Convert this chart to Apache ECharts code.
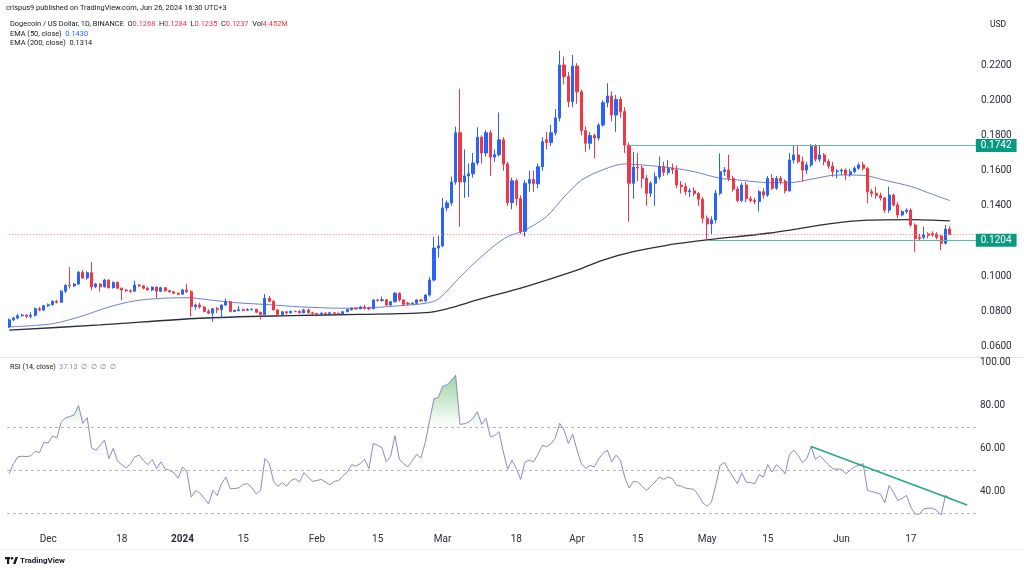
<!DOCTYPE html>
<html><head><meta charset="utf-8">
<script src="https://cdn.jsdelivr.net/npm/echarts@6/dist/echarts.min.js"></script>
<style>html,body{margin:0;padding:0;background:#fff}#c{width:1024px;height:570px}</style>
</head><body><div id="c"></div>
<script>
// ---------- DATA ----------
// daily candles [open, close, low, high], DOGE/USD Binance, 2023-11-22 .. 2024-06-26
const nov23 = [[0.0712,0.0752,0.0705,0.0760],[0.0752,0.0762,0.0745,0.0770],[0.0762,0.0775,0.0755,0.0785],[0.0775,0.0779,0.0770,0.0788],[0.0779,0.0772,0.0762,0.0785],[0.0772,0.0778,0.0760,0.0795],[0.0778,0.0815,0.0770,0.0822],[0.0815,0.0808,0.0800,0.0825],[0.0808,0.0832,0.0802,0.0838]];
const dec23 = [[0.0832,0.0838,0.0825,0.0845],[0.0838,0.0858,0.0832,0.0862],[0.0858,0.0852,0.0845,0.0865],[0.0852,0.0915,0.0850,0.0920],[0.0915,0.0948,0.0905,0.0955],[0.0948,0.0945,0.0930,0.1052],[0.0945,0.0955,0.0938,0.0962],[0.0955,0.1022,0.0950,0.1030],[0.1022,0.0990,0.0985,0.1035],[0.0990,0.1020,0.0980,0.1028],[0.1020,0.0940,0.0920,0.1079],[0.0940,0.0955,0.0932,0.0962],[0.0955,0.0940,0.0912,0.0960],[0.0940,0.0978,0.0935,0.0985],[0.0978,0.0935,0.0930,0.0982],[0.0935,0.0965,0.0930,0.0970],[0.0965,0.0932,0.0928,0.0970],[0.0932,0.0922,0.0865,0.0935],[0.0922,0.0918,0.0910,0.0928],[0.0918,0.0915,0.0905,0.0925],[0.0915,0.0950,0.0910,0.0975],[0.0950,0.0945,0.0940,0.0955],[0.0945,0.0932,0.0925,0.0950],[0.0932,0.0922,0.0918,0.0940],[0.0922,0.0938,0.0915,0.0942],[0.0938,0.0915,0.0874,0.0942],[0.0915,0.0935,0.0910,0.0940],[0.0935,0.0918,0.0912,0.0938],[0.0918,0.0912,0.0905,0.0922],[0.0912,0.0903,0.0898,0.0915],[0.0903,0.0898,0.0892,0.0908]];
const jan24 = [[0.0898,0.0922,0.0895,0.0928],[0.0922,0.0912,0.0905,0.0955],[0.0912,0.0828,0.0770,0.0920],[0.0828,0.0836,0.0810,0.0845],[0.0836,0.0825,0.0815,0.0850],[0.0825,0.0800,0.0795,0.0830],[0.0800,0.0790,0.0785,0.0812],[0.0790,0.0815,0.0742,0.0820],[0.0815,0.0810,0.0790,0.0825],[0.0810,0.0836,0.0761,0.0840],[0.0836,0.0855,0.0832,0.0874],[0.0855,0.0800,0.0795,0.0860],[0.0800,0.0805,0.0795,0.0810],[0.0805,0.0810,0.0800,0.0830],[0.0810,0.0806,0.0800,0.0815],[0.0806,0.0810,0.0802,0.0818],[0.0810,0.0812,0.0805,0.0818],[0.0812,0.0795,0.0790,0.0815],[0.0795,0.0782,0.0755,0.0798],[0.0782,0.0874,0.0780,0.0899],[0.0874,0.0858,0.0852,0.0888],[0.0858,0.0808,0.0805,0.0862],[0.0808,0.0782,0.0770,0.0812],[0.0782,0.0798,0.0778,0.0802],[0.0798,0.0792,0.0782,0.0802],[0.0792,0.0800,0.0788,0.0805],[0.0800,0.0799,0.0795,0.0805],[0.0799,0.0792,0.0788,0.0808],[0.0792,0.0808,0.0790,0.0815],[0.0808,0.0792,0.0788,0.0815],[0.0792,0.0788,0.0782,0.0798]];
const feb24 = [[0.0788,0.0785,0.0780,0.0792],[0.0785,0.0790,0.0780,0.0795],[0.0790,0.0788,0.0782,0.0795],[0.0788,0.0792,0.0784,0.0798],[0.0792,0.0789,0.0784,0.0796],[0.0789,0.0787,0.0781,0.0793],[0.0787,0.0798,0.0783,0.0802],[0.0798,0.0810,0.0795,0.0815],[0.0810,0.0818,0.0805,0.0822],[0.0818,0.0815,0.0810,0.0822],[0.0815,0.0825,0.0812,0.0830],[0.0825,0.0818,0.0810,0.0838],[0.0818,0.0815,0.0808,0.0826],[0.0815,0.0865,0.0812,0.0870],[0.0865,0.0862,0.0855,0.0872],[0.0862,0.0866,0.0855,0.0884],[0.0866,0.0836,0.0830,0.0870],[0.0836,0.0855,0.0832,0.0860],[0.0855,0.0903,0.0850,0.0910],[0.0903,0.0865,0.0855,0.0908],[0.0865,0.0840,0.0830,0.0868],[0.0846,0.0842,0.0835,0.0855],[0.0842,0.0846,0.0838,0.0852],[0.0846,0.0865,0.0842,0.0870],[0.0865,0.0860,0.0854,0.0870],[0.0860,0.0893,0.0852,0.0898],[0.0893,0.0978,0.0885,0.0995],[0.0978,0.1160,0.0970,0.1224],[0.1160,0.1172,0.1105,0.1230]];
const mar24 = [[0.1172,0.1388,0.1165,0.1444],[0.1388,0.1416,0.1370,0.1430],[0.1416,0.1535,0.1400,0.1566],[0.1535,0.1815,0.1520,0.1850],[0.1815,0.1535,0.1280,0.2064],[0.1535,0.1570,0.1445,0.1720],[0.1570,0.1582,0.1450,0.1640],[0.1582,0.1643,0.1560,0.1700],[0.1643,0.1790,0.1630,0.1846],[0.1790,0.1700,0.1640,0.1800],[0.1700,0.1815,0.1680,0.1830],[0.1815,0.1677,0.1570,0.1830],[0.1677,0.1690,0.1650,0.1720],[0.1690,0.1775,0.1680,0.1930],[0.1775,0.1637,0.1600,0.1790],[0.1637,0.1418,0.1400,0.1650],[0.1418,0.1542,0.1380,0.1560],[0.1542,0.1440,0.1400,0.1555],[0.1440,0.1255,0.1240,0.1460],[0.1255,0.1528,0.1225,0.1545],[0.1528,0.1550,0.1480,0.1600],[0.1550,0.1525,0.1480,0.1600],[0.1525,0.1622,0.1500,0.1640],[0.1622,0.1764,0.1600,0.1790],[0.1775,0.1760,0.1720,0.1820],[0.1760,0.1815,0.1740,0.1860],[0.1815,0.1899,0.1800,0.1950],[0.1899,0.2200,0.1880,0.2280],[0.2200,0.2134,0.2090,0.2247],[0.2134,0.1992,0.1960,0.2160],[0.1992,0.2194,0.1960,0.2257]];
const apr24 = [[0.2194,0.2048,0.1980,0.2210],[0.2048,0.1827,0.1800,0.2060],[0.1827,0.1755,0.1707,0.1850],[0.1755,0.1799,0.1720,0.1820],[0.1799,0.1785,0.1670,0.1810],[0.1785,0.1859,0.1770,0.1870],[0.1859,0.1986,0.1850,0.2000],[0.1986,0.2024,0.1960,0.2097],[0.2024,0.1916,0.1880,0.2050],[0.1916,0.2005,0.1820,0.2030],[0.2005,0.1935,0.1900,0.2020],[0.1935,0.1745,0.1700,0.1960],[0.1745,0.1528,0.1310,0.1760],[0.1528,0.1620,0.1440,0.1707],[0.1620,0.1615,0.1540,0.1700],[0.1615,0.1556,0.1500,0.1630],[0.1556,0.1471,0.1400,0.1575],[0.1471,0.1528,0.1450,0.1540],[0.1528,0.1565,0.1400,0.1590],[0.1565,0.1622,0.1550,0.1680],[0.1622,0.1590,0.1570,0.1650],[0.1590,0.1613,0.1575,0.1660],[0.1613,0.1605,0.1580,0.1640],[0.1605,0.1518,0.1500,0.1630],[0.1518,0.1510,0.1470,0.1540],[0.1510,0.1480,0.1460,0.1530],[0.1480,0.1485,0.1450,0.1500],[0.1485,0.1470,0.1455,0.1505],[0.1470,0.1437,0.1400,0.1480],[0.1437,0.1329,0.1300,0.1450]];
const may24 = [[0.1329,0.1297,0.1206,0.1345],[0.1297,0.1320,0.1240,0.1340],[0.1320,0.1471,0.1300,0.1490],[0.1471,0.1594,0.1460,0.1698],[0.1594,0.1603,0.1570,0.1620],[0.1603,0.1556,0.1540,0.1690],[0.1556,0.1494,0.1480,0.1570],[0.1494,0.1430,0.1420,0.1510],[0.1430,0.1518,0.1420,0.1530],[0.1518,0.1440,0.1420,0.1535],[0.1440,0.1430,0.1420,0.1455],[0.1430,0.1424,0.1410,0.1445],[0.1424,0.1480,0.1367,0.1490],[0.1480,0.1461,0.1440,0.1500],[0.1461,0.1556,0.1450,0.1570],[0.1556,0.1500,0.1490,0.1580],[0.1500,0.1556,0.1490,0.1570],[0.1556,0.1540,0.1520,0.1570],[0.1540,0.1485,0.1470,0.1550],[0.1485,0.1660,0.1480,0.1700],[0.1660,0.1689,0.1640,0.1745],[0.1689,0.1651,0.1640,0.1745],[0.1651,0.1603,0.1537,0.1680],[0.1603,0.1632,0.1580,0.1650],[0.1632,0.1740,0.1620,0.1750],[0.1740,0.1665,0.1650,0.1750],[0.1665,0.1689,0.1650,0.1745],[0.1689,0.1651,0.1630,0.1700],[0.1651,0.1626,0.1610,0.1665],[0.1626,0.1594,0.1565,0.1650],[0.1594,0.1598,0.1556,0.1610]];
const jun24 = [[0.1598,0.1603,0.1575,0.1612],[0.1603,0.1578,0.1547,0.1612],[0.1578,0.1594,0.1565,0.1610],[0.1594,0.1613,0.1585,0.1625],[0.1613,0.1632,0.1605,0.1645],[0.1632,0.1613,0.1600,0.1650],[0.1613,0.1480,0.1414,0.1620],[0.1480,0.1471,0.1450,0.1495],[0.1471,0.1458,0.1440,0.1509],[0.1458,0.1445,0.1430,0.1475],[0.1445,0.1376,0.1360,0.1450],[0.1376,0.1461,0.1360,0.1509],[0.1461,0.1405,0.1395,0.1470],[0.1405,0.1348,0.1330,0.1420],[0.1348,0.1367,0.1340,0.1375],[0.1367,0.1376,0.1355,0.1385],[0.1376,0.1291,0.1280,0.1385],[0.1291,0.1215,0.1139,0.1300],[0.1222,0.1215,0.1200,0.1240],[0.1221,0.1234,0.1210,0.1281],[0.1240,0.1232,0.1215,0.1250],[0.1242,0.1234,0.1225,0.1255],[0.1240,0.1221,0.1210,0.1250],[0.1228,0.1187,0.1149,0.1235],[0.1187,0.1268,0.1180,0.1291],[0.1268,0.1237,0.1235,0.1284]];

// RSI(14) daily values
const rsiNovDec = [48.4,53.1,56.2,56.5,56.3,56.7,58.8,58.2,62.9,62.6,65.8,65.0,72.2,74.3,74.8,75.6,79.9,71.7,74.3,60.4,59.3,61.5,64.0,55.4,60.1,54.2,52.5,51.1,53.0,56.2,57.0,54.5,52.6,55.1,50.8,53.9,50.6,50.0,48.9,46.4];
const rsiJan = [51.6,49.2,37.6,40.7,39.5,37.0,34.5,40.7,38.4,44.0,46.9,41.5,41.6,41.9,43.5,43.8,42.0,39.1,40.7,55.4,53.1,44.9,42.6,44.3,42.7,45.3,46.1,44.6,48.9,46.9,44.9];
const rsiFeb = [45.3,45.8,44.5,43.3,44.9,45.3,47.5,49.2,52.6,51.9,53.1,55.1,50.8,62.4,61.6,60.4,53.9,56.5,66.0,55.1,53.0,51.6,54.5,57.3,55.7,62.9,73.0,83.0,83.6];
const rsiMar = [88.8,89.5,91.5,93.9,71.2,71.5,72.2,74.0,77.1,71.2,74.0,65.5,66.0,67.8,58.5,50.5,54.7,50.8,45.8,53.9,54.7,53.9,57.5,61.6,60.9,62.4,65.0,71.7,68.6,62.4,66.7];
const rsiApr = [59.3,53.1,50.8,52.3,51.6,55.4,57.8,59.3,53.9,57.0,54.7,46.9,41.8,44.9,44.6,42.7,40.7,42.6,44.6,46.9,45.8,46.9,46.1,43.0,42.7,41.8,41.5,41.2,38.5,35.0];
const rsiMay = [33.4,35.3,43.0,52.3,53.6,50.0,46.9,43.8,48.9,44.6,44.3,43.8,48.0,46.9,52.6,49.2,52.6,50.8,48.4,57.3,59.3,57.0,53.6,55.4,60.9,55.1,56.7,54.7,52.6,50.8,50.5];
const rsiJun = [50.5,48.4,50.0,51.5,52.3,53.1,40.7,40.2,39.6,39.1,35.0,43.0,39.9,36.0,37.1,38.4,33.0,29.8,29.8,32.2,32.5,32.5,31.4,29.4,38.4,37.1];

// EMA readings [date, value]
const ema50 = [['2023-11-22',0.0712],['2023-12-02',0.0730],['2023-12-09',0.0775],['2023-12-15',0.0825],['2023-12-21',0.0860],['2023-12-27',0.0874],['2024-01-02',0.0878],['2024-01-07',0.0866],['2024-01-13',0.0850],['2024-01-21',0.0838],['2024-01-28',0.0826],['2024-02-07',0.0818],['2024-02-14',0.0822],['2024-02-20',0.0832],['2024-02-26',0.0846],['2024-02-29',0.0870],['2024-03-05',0.0995],['2024-03-09',0.1090],['2024-03-13',0.1175],['2024-03-16',0.1225],['2024-03-20',0.1262],['2024-03-25',0.1340],['2024-03-29',0.1450],['2024-04-02',0.1545],['2024-04-07',0.1605],['2024-04-12',0.1638],['2024-04-16',0.1632],['2024-04-23',0.1615],['2024-04-28',0.1594],['2024-05-04',0.1556],['2024-05-08',0.1547],['2024-05-14',0.1533],['2024-05-20',0.1531],['2024-05-25',0.1551],['2024-05-31',0.1575],['2024-06-06',0.1573],['2024-06-11',0.1545],['2024-06-17',0.1510],['2024-06-22',0.1465],['2024-06-26',0.1430]];
const ema200 = [['2023-11-22',0.0694],['2023-12-13',0.0723],['2024-01-05',0.0761],['2024-01-26',0.0776],['2024-02-11',0.0783],['2024-02-26',0.0793],['2024-03-02',0.0815],['2024-03-09',0.0865],['2024-03-20',0.0940],['2024-04-01',0.1035],['2024-04-07',0.1092],['2024-04-14',0.1139],['2024-04-22',0.1177],['2024-05-01',0.1206],['2024-05-15',0.1244],['2024-05-30',0.1300],['2024-06-07',0.1319],['2024-06-17',0.1322],['2024-06-26',0.1314]];

// horizontal levels and RSI trend line
const levelValues = [0.1742, 0.1204];
const levelStarts = ['2024-04-13', '2024-05-01'];
const lastClose = 0.1237;
const rsiTrend = [['2024-05-25', 61], ['2024-06-30', 34]];
const rsiBands = [70, 50, 30];

// tick labels
const tickDates = ['2023-12-01','2023-12-18','2024-01-01','2024-01-15','2024-02-01','2024-02-15','2024-03-01','2024-03-18','2024-04-01','2024-04-15','2024-05-01','2024-05-15','2024-06-01','2024-06-17'];
const tickLabels = ['Dec','18','2024','15','Feb','15','Mar','18','Apr','15','May','15','Jun','17'];
const priceTicks = {min:0.04, max:0.25125, interval:0.02};
const rsiTicks = {min:20, max:100, interval:20};

// ---------- BUILD ----------
const candles = [].concat(nov23, dec23, jan24, feb24, mar24, apr24, may24, jun24);
const rsi = [].concat(rsiNovDec, rsiJan, rsiFeb, rsiMar, rsiApr, rsiMay, rsiJun);
const categories = [];
const t0 = Date.UTC(2023, 10, 22);
for (let i = 0; i < candles.length + 6; i++) categories.push(new Date(t0 + i * 86400000).toISOString().slice(0, 10));
const lastCat = categories[categories.length - 1];

const UP = '#2962ff', DOWN = '#f23645';
const FONT = 'Roboto, "Noto Sans", sans-serif';
const TXT = '#2a2e39';
const rsiTop = 362, rsiBottomPx = 535.3;
const yOfRsi = v => rsiTop + (100 - v) / 80 * (rsiBottomPx - rsiTop);

const obBase = rsi.map(() => 70);
const obTop = rsi.map(v => Math.max(v - 70, 0));

const chart = echarts.init(document.getElementById('c'), null, {renderer: 'canvas'});
const levelLine = (v, start) => [
  {coord: [start, v], lineStyle: {color: '#5cbf9b', width: 1, type: 'solid'},
   label: {show: true, position: 'end', distance: 0, formatter: v.toFixed(4), color: '#fff', backgroundColor: '#089981',
           padding: [1, 5, 1, 5], fontSize: 10, lineHeight: 11, fontFamily: FONT}},
  {coord: [lastCat, v]}
];

chart.setOption({
  animation: false,
  backgroundColor: '#ffffff',
  textStyle: {fontFamily: FONT},
  grid: [
    {left: 7, right: 46, top: 10, bottom: 188.2, outerBoundsMode: 'none', containLabel: false},
    {left: 7, right: 46, top: rsiTop, bottom: 570 - rsiBottomPx, outerBoundsMode: 'none', containLabel: false}
  ],
  xAxis: [
    {type: 'category', gridIndex: 0, data: categories, boundaryGap: true, show: false},
    {type: 'category', gridIndex: 1, data: categories, boundaryGap: true,
     axisLine: {show: false}, axisTick: {show: false}, splitLine: {show: false},
     axisLabel: {interval: (i, v) => tickDates.includes(v), margin: -1, fontSize: 10, color: TXT, fontFamily: FONT,
       formatter: v => { const k = tickDates.indexOf(v); if (k < 0) return ''; const t = tickLabels[k]; return t === '2024' ? '{b|2024}' : t; },
       rich: {b: {fontWeight: 'bold', fontSize: 10, color: TXT, fontFamily: FONT}}}}
  ],
  yAxis: [
    {type: 'value', gridIndex: 0, position: 'right', min: priceTicks.min, max: priceTicks.max, interval: priceTicks.interval,
     axisLine: {show: false}, axisTick: {show: false}, splitLine: {show: false},
     axisLabel: {margin: 3, fontSize: 10, color: TXT, fontFamily: FONT, showMaxLabel: false,
       formatter: v => (v < 0.059 || v > 0.221) ? '' : v.toFixed(4)}},
    {type: 'value', gridIndex: 1, position: 'right', min: rsiTicks.min, max: rsiTicks.max, interval: rsiTicks.interval,
     axisLine: {show: false}, axisTick: {show: false}, splitLine: {show: false},
     axisLabel: {margin: 2, fontSize: 10, color: TXT, fontFamily: FONT,
       formatter: v => v < 21 ? '' : v.toFixed(2)}}
  ],
  series: [
    {type: 'line', name: 'EMA200', xAxisIndex: 0, yAxisIndex: 0, data: ema200, smooth: 0.3, showSymbol: false, silent: true,
     lineStyle: {color: '#2a2e39', width: 1.3}, z: 1},
    {type: 'line', name: 'EMA50', xAxisIndex: 0, yAxisIndex: 0, data: ema50, smooth: 0.3, showSymbol: false, silent: true,
     lineStyle: {color: '#6f7fd8', width: 1}, z: 1,
     markLine: {silent: true, symbol: ['none', 'none'], animation: false, label: {show: false},
       lineStyle: {color: '#f0828c', width: 1, type: [1, 2]},
       data: [[{coord: [categories[0], lastClose]}, {coord: [lastCat, lastClose]}]]}},
    {type: 'candlestick', name: 'DOGEUSD', xAxisIndex: 0, yAxisIndex: 0, data: candles, barWidth: 2.6, z: 3,
     itemStyle: {color: UP, color0: DOWN, borderColor: UP, borderColor0: DOWN, borderWidth: 1},
     markLine: {silent: true, symbol: ['none', 'none'], animation: false,
       data: [levelLine(levelValues[0], levelStarts[0]), levelLine(levelValues[1], levelStarts[1])]}},
    {type: 'line', name: 'obBase', xAxisIndex: 1, yAxisIndex: 1, data: obBase, stack: 'ob', showSymbol: false, silent: true,
     lineStyle: {opacity: 0}, z: 1},
    {type: 'line', name: 'obTop', xAxisIndex: 1, yAxisIndex: 1, data: obTop, stack: 'ob', showSymbol: false, silent: true,
     lineStyle: {opacity: 0}, z: 1,
     areaStyle: {color: {type: 'linear', x: 0, y: yOfRsi(100), x2: 0, y2: yOfRsi(70), global: true,
       colorStops: [{offset: 0, color: 'rgba(60,170,70,0.9)'}, {offset: 1, color: 'rgba(60,170,70,0)'}]}}},
    {type: 'line', name: 'RSI', xAxisIndex: 1, yAxisIndex: 1, data: rsi, showSymbol: false, silent: true,
     lineStyle: {color: '#8f88bf', width: 1}, z: 3,
     markLine: {silent: true, symbol: ['none', 'none'], animation: false, label: {show: false},
       data: rsiBands.map(b => ({yAxis: b, lineStyle: {color: '#b2b5be', width: 1, type: [3, 3]}})).concat([
         [{coord: rsiTrend[0], lineStyle: {color: '#22a884', width: 1.4, type: 'solid'}}, {coord: rsiTrend[1]}]
       ])}}
  ],
  graphic: [
    {type: 'rect', shape: {x: 0, y: 357, width: 1024, height: 1}, style: {fill: '#e0e3eb'}, silent: true},
    {type: 'rect', shape: {x: 0, y: 549, width: 1024, height: 1}, style: {fill: '#eef0f3'}, silent: true},
    {type: 'text', x: 6, y: 8, silent: true, style: {text: 'crispus9 published on TradingView.com, Jun 26, 2024 16:30 UTC+3',
      fill: '#131722', font: '7.4px ' + FONT, verticalAlign: 'middle'}},
    {type: 'text', x: 10, y: 24, silent: true, style: {
      text: '{k|Dogecoin / US Dollar, 1D, BINANCE  O}{r|0.1268}{k|  H}{r|0.1284}{k|  L}{r|0.1235}{k|  C}{r|0.1237}{k|  Vol}{r|4.452M}',
      verticalAlign: 'middle',
      rich: {k: {fontSize: 7.4, fill: '#131722', fontFamily: FONT}, r: {fontSize: 7.4, fill: '#f23645', fontFamily: FONT}}}},
    {type: 'text', x: 10, y: 34, silent: true, style: {text: '{k|EMA (50, close)  }{b|0.1430}', verticalAlign: 'middle',
      rich: {k: {fontSize: 7.4, fill: '#131722', fontFamily: FONT}, b: {fontSize: 7.4, fill: '#2962ff', fontFamily: FONT}}}},
    {type: 'text', x: 10, y: 43.5, silent: true, style: {text: 'EMA (200, close)  0.1314', fill: '#131722', font: '7.4px ' + FONT, verticalAlign: 'middle'}},
    {type: 'text', x: 990, y: 25, silent: true, style: {text: 'USD', fill: '#131722', font: '8.5px ' + FONT, verticalAlign: 'middle'}},
    {type: 'text', x: 10, y: 367.5, silent: true, style: {text: '{k|RSI (14, close)  }{p|37.13}{g|  ∅  ∅  ∅  ∅}', verticalAlign: 'middle',
      rich: {k: {fontSize: 7.2, fill: '#131722', fontFamily: FONT}, p: {fontSize: 7.2, fill: '#8f88bf', fontFamily: FONT}, g: {fontSize: 7.2, fill: '#787b86', fontFamily: FONT}}}},
    {type: 'group', x: 5, y: 556, silent: true, children: [
      {type: 'rect', shape: {x: 0, y: 1, width: 5, height: 2.2}, style: {fill: '#131722'}},
      {type: 'rect', shape: {x: 2, y: 1, width: 2.2, height: 7}, style: {fill: '#131722'}},
      {type: 'circle', shape: {cx: 7, cy: 2.2, r: 1.3}, style: {fill: '#131722'}},
      {type: 'polygon', shape: {points: [[8, 8], [10.5, 1], [13, 1], [10.5, 8]]}, style: {fill: '#131722'}},
      {type: 'text', x: 15, y: 4.5, style: {text: 'TradingView', fill: '#131722', font: 'bold 8px ' + FONT, verticalAlign: 'middle'}}
    ]}
  ]
});
</script>
</body></html>
